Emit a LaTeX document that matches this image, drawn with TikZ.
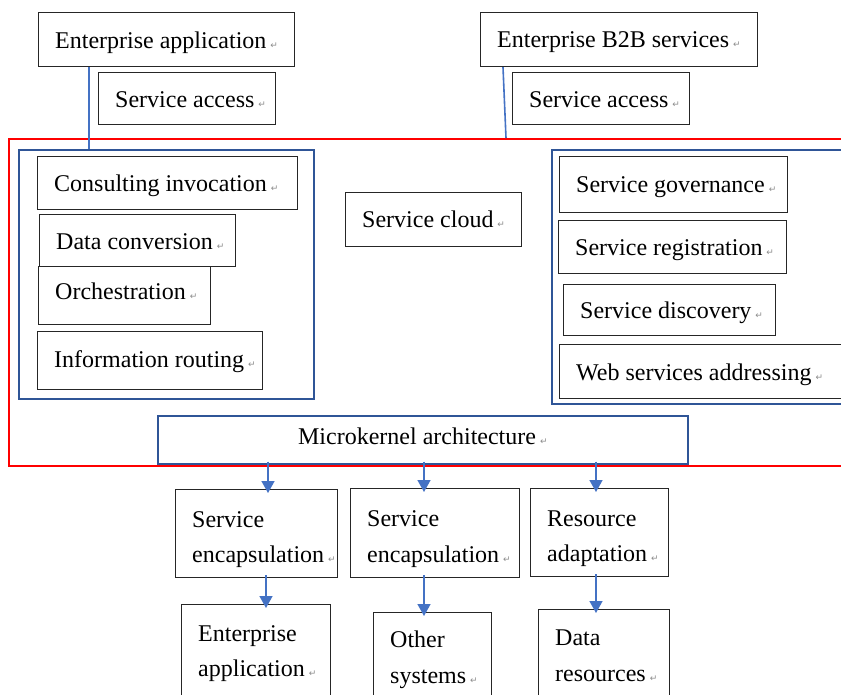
\documentclass[tikz,border=0pt]{standalone}
\usepackage{fontspec}
\setmainfont{Liberation Serif}
\newfontfamily\marksymfont{DejaVu Sans}
\usepackage{xcolor}
\usepackage{tikz}
\usetikzlibrary{positioning,arrows.meta}
\definecolor{linkblue}{HTML}{4472C4}
\definecolor{groupblue}{HTML}{2F5597}
\newcommand\pmark{\hspace{4pt}{\marksymfont\fontsize{9}{9}\selectfont\color{black!45}↵}}
\newcommand\wordbox[6][]{\node[wbox,minimum width=#4pt,minimum height=#5pt] (#2) at (#3) {};
  \node[txt,right=17pt of #2.west,yshift=-3pt,#1] (#2-t) {#6\pmark}}
\tikzstyle{wbox}=[draw=black!85,line width=1.2pt,fill=white,anchor=north west,inner sep=0pt]
\tikzstyle{group}=[draw=groupblue,line width=1.7pt,anchor=north west,inner sep=0pt]
\tikzstyle{frame}=[draw=red,line width=1.8pt,anchor=north west,inner sep=0pt]
\tikzstyle{txt}=[align=left,inner sep=0pt,font=\fontsize{24}{35.5}\selectfont]
\tikzstyle{twoline}=[yshift=-3pt]
\tikzstyle{link}=[draw=linkblue,line width=1.6pt]
\tikzstyle{flow}=[link,-{Triangle[width=13pt,length=12pt]},shorten <=-3pt,shorten >=-4pt]

\begin{document}
\begin{tikzpicture}[x=1pt,y=-1pt]
  \useasboundingbox (0,0) rectangle (841,695);
  \clip (0,0) rectangle (841,695);
  % top row
  \wordbox{ea}{38,12}{256}{54}{Enterprise application};
  \wordbox[yshift=2pt]{sa1}{98,72}{177}{52}{Service access};
  \wordbox{b2b}{480,12}{277}{54}{Enterprise B2B services};
  \wordbox[yshift=2pt]{sa2}{512,72}{177}{52}{Service access};
  % service cloud frame and groups
  \node[frame,minimum width=900pt,minimum height=327pt] (cloud) at (8,138) {};
  \node[group,minimum width=295pt,minimum height=249pt] (lgroup) at (18,149) {};
  \node[group,minimum width=320pt,minimum height=254pt] (rgroup) at (551,149) {};
  \wordbox{ci}{37,156}{260}{53}{Consulting invocation};
  \wordbox[yshift=2pt]{dc}{39,214}{196}{52}{Data conversion};
  \wordbox[yshift=7pt]{orch}{38,266}{172}{58}{Orchestration};
  \wordbox[yshift=2pt]{ir}{37,331}{225}{58}{Information routing};
  \wordbox[yshift=3pt]{sc}{345,192}{176}{54}{Service cloud};
  \wordbox{sg}{559,156}{228}{56}{Service governance};
  \wordbox{sr}{558,220}{228}{53}{Service registration};
  \wordbox{sd}{563,284}{212}{51}{Service discovery};
  \wordbox{wsa}{559,344}{290}{54}{Web services addressing};
  % microkernel
  \node[wbox,draw=groupblue,line width=1.7pt,minimum width=530pt,minimum height=48pt] (mk) at (157,415) {};
  \node[txt,yshift=4pt] (mk-t) at (mk) {Microkernel architecture\pmark};
  % lower rows
  \wordbox[twoline]{enc1}{175,489}{162}{88}{Service\\encapsulation};
  \wordbox[twoline]{enc2}{350,488}{169}{89}{Service\\encapsulation};
  \wordbox[twoline]{ra}{530,488}{138}{88}{Resource\\adaptation};
  \wordbox[twoline,yshift=6pt]{ea2}{181,604}{149}{98}{Enterprise\\application};
  \wordbox[twoline,yshift=6pt]{os}{373,612}{118}{94}{Other\\systems};
  \wordbox[twoline,yshift=6pt]{dr}{538,609}{131}{92}{Data\\resources};
  % connectors
  \coordinate (ea-o) at ([xshift=51pt]ea.south west);
  \draw[link] (ea-o) -- (ea-o |- lgroup.north);
  \coordinate (b2b-o) at ([xshift=23pt]b2b.south west);
  \coordinate (b2b-i) at ([xshift=26pt]b2b.south west);
  \draw[link] (b2b-o) -- (b2b-i |- cloud.north);
  \coordinate (c1) at (268,0);
  \coordinate (c2) at (424,0);
  \coordinate (c3) at (596,0);
  \coordinate (d1) at (266,0);
  \foreach \a/\b/\c in {mk/enc1/c1,mk/enc2/c2,mk/ra/c3,enc1/ea2/d1,enc2/os/c2,ra/dr/c3}
    \draw[flow] (\a.south -| \c) -- (\b.north -| \c);
\end{tikzpicture}
\end{document}
